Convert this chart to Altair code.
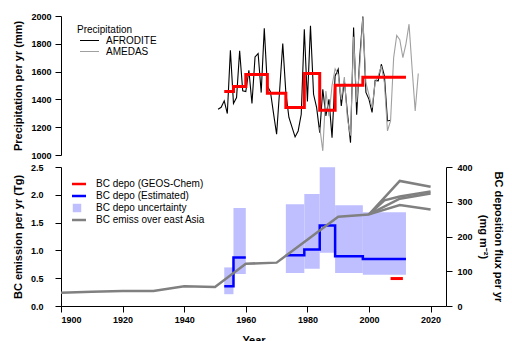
import altair as alt
import pandas as pd

# ---------------- data ----------------
afro_years = [1951, 1952, 1953, 1954, 1955, 1956, 1957, 1958, 1959, 1960,
              1961, 1962, 1963, 1964, 1965, 1966, 1967, 1968, 1969, 1970,
              1971, 1972, 1973, 1974, 1975, 1976, 1977, 1978, 1979, 1980,
              1981, 1982, 1983, 1984, 1985, 1986, 1987, 1988, 1989, 1990,
              1991, 1992, 1993, 1994, 1995, 1996, 1997, 1998, 1999, 2000,
              2001, 2002, 2003, 2004, 2005, 2006, 2007]
afro_mm = [1329, 1343, 1390, 1298, 1754, 1370, 1413, 1750, 1462, 1456,
           1610, 1370, 1706, 1730, 1449, 1911, 1497, 1456, 1300, 1149,
           1470, 1802, 1449, 1270, 1200, 1130, 1173, 1293, 1905, 1385,
           1929, 1437, 1341, 1161, 1473, 1281, 1400, 1125, 1569, 1617,
           1353, 1536, 1300, 1089, 1917, 1290, 1700, 1996, 1450, 1400,
           1306, 1536, 1533, 1653, 1569, 1245, 1250]

amedas_years = [1984, 1985, 1986, 1987, 1988, 1989, 1990, 1991, 1992, 1993,
                1994, 1995, 1996, 1997, 1998, 1999, 2000, 2001, 2002, 2003,
                2004, 2005, 2006, 2007, 2008, 2009, 2010, 2011, 2012, 2013,
                2014, 2015, 2016]
amedas_mm = [1200, 1030, 1460, 1280, 1500, 1620, 1580, 1400, 1560, 1260,
             1140, 1850, 1380, 1640, 1990, 1520, 1430, 1340, 1520, 1570,
             1640, 1520, 1173, 1245, 1700, 1860, 1830, 1700, 1800, 1941,
             1620, 1317, 1586]

prc_start = [1953, 1956, 1960, 1967, 1973, 1979, 1984, 1989, 1998]
prc_end = [1956, 1960, 1967, 1973, 1979, 1984, 1989, 1998, 2012]
prc_val = [1456, 1492, 1579, 1444, 1341, 1586, 1322, 1502, 1559]

dep_start = [1953, 1956, 1973, 1979, 1984, 1989, 1998]
dep_end = [1956, 1960, 1979, 1984, 1989, 1998, 2012]
dep_val = [57, 139.5, 146, 162.5, 232, 143, 135.5]
unc_lo = [34, 92, 95, 107, 153, 95, 90]
unc_hi = [111, 282, 293, 322, 399, 290, 270]

geos_start = [2007]
geos_end = [2011]
geos_val = [79]

emis_hist_years = [1900, 1910, 1920, 1930, 1940, 1950, 1960, 1970, 1990, 2000]
emis_hist_tg = [0.24, 0.255, 0.27, 0.27, 0.355, 0.34, 0.76, 0.78, 1.605, 1.647]
scen_names = ["s1", "s2", "s3", "s4"]
scen_years = [[2000, 2010, 2020], [2000, 2005, 2010, 2020],
              [2000, 2010, 2020], [2000, 2010, 2020]]
scen_tg = [[1.647, 2.25, 2.145], [1.647, 1.90, 1.97, 2.06],
           [1.647, 1.93, 2.025], [1.647, 1.815, 1.737]]

LAB_GEOS = "BC depo (GEOS-Chem)"
LAB_EST = "BC depo (Estimated)"
LAB_UNC = "BC depo uncertainty"
LAB_EMI = "BC emiss over east Asia"


def step_points(starts, ends, vals):
    rows, grp = [], 0
    for i, (s, e, v) in enumerate(zip(starts, ends, vals)):
        rows.append({"year": s, "val": v, "grp": grp})
        if i == len(starts) - 1 or starts[i + 1] != e:
            rows.append({"year": e, "val": v, "grp": grp})
            grp += 1
    return pd.DataFrame(rows)


prc_df = pd.concat([
    pd.DataFrame({"year": afro_years, "mm": afro_mm, "series": "AFRODITE"}),
    pd.DataFrame({"year": amedas_years, "mm": amedas_mm, "series": "AMEDAS"}),
])
prc_step = step_points(prc_start, prc_end, prc_val)

dep_step = step_points(dep_start, dep_end, dep_val)
dep_step["series"] = LAB_EST
unc_df = pd.DataFrame({"start": dep_start, "end": dep_end, "lo": unc_lo,
                       "hi": unc_hi, "series": LAB_UNC})
geos_df = step_points(geos_start, geos_end, geos_val)
geos_df["series"] = LAB_GEOS

emis_rows = [{"year": y, "tg": v, "line": "hist", "series": LAB_EMI}
             for y, v in zip(emis_hist_years, emis_hist_tg)]
for n, ys, vs in zip(scen_names, scen_years, scen_tg):
    emis_rows += [{"year": y, "tg": v, "line": n, "series": LAB_EMI}
                  for y, v in zip(ys, vs)]
emis_df = pd.DataFrame(emis_rows)

# ---------------- chart ----------------
FONT = "Liberation Sans"
W, H = 385, 139
xscale = alt.Scale(domain=[1900, 2025], nice=False, zero=False)
xaxis = alt.Axis(values=list(range(1900, 2021, 20)), format="d", title="Year",
                 labelPadding=3, titlePadding=10)

# top panel
pscale = alt.Scale(domain=[1000, 2000], nice=False, zero=False)
paxis = alt.Axis(values=[1000, 1200, 1400, 1600, 1800, 2000], format="d",
                 title="Precipitation per yr (mm)", labelPadding=4, titlePadding=7)
top_legend = alt.Legend(title="Precipitation", orient="none", legendX=16, legendY=9,
                        symbolType="stroke", symbolSize=361, symbolStrokeWidth=1.2,
                        labelFontSize=10, titleFontSize=10, titleFontWeight="normal",
                        clipHeight=11, rowPadding=0, symbolOffset=2, labelOffset=6,
                        titlePadding=0, padding=0)

prc_lines = alt.Chart(prc_df).mark_line(strokeWidth=1.1).encode(
    x=alt.X("year:Q", scale=xscale, axis=None),
    y=alt.Y("mm:Q", scale=pscale, axis=paxis),
    color=alt.Color("series:N", scale=alt.Scale(domain=["AFRODITE", "AMEDAS"],
                                                range=["#000000", "#a0a0a0"]),
                    legend=top_legend),
    order=alt.Order("year:Q"),
)
prc_red = alt.Chart(prc_step).mark_line(interpolate="step-after", color="#ff0000",
                                        strokeWidth=3).encode(
    x=alt.X("year:Q", scale=xscale, axis=None),
    y=alt.Y("val:Q", scale=pscale, axis=paxis),
    detail="grp:N",
)
top = alt.layer(prc_lines, prc_red).properties(width=W, height=H)

# bottom panel
dscale = alt.Scale(domain=[0, 400], nice=False, zero=True)
daxis = alt.Axis(values=[0, 100, 200, 300, 400], format="d", orient="right",
                 title=["BC deposition flux per yr", "(mg m\u207b\u00b2)"],
                 titleLineHeight=15, labelPadding=5, titlePadding=5)
escale = alt.Scale(domain=[0, 2.5], nice=False, zero=True)
eaxis = alt.Axis(values=[0, 0.5, 1.0, 1.5, 2.0, 2.5], format=".1f", orient="left",
                 title="BC emission per yr (Tg)", labelPadding=12, titlePadding=7)

cdom = [LAB_GEOS, LAB_EST, LAB_UNC, LAB_EMI]
crng = ["#ff0000", "#0000ff", "#bfbfff", "#808080"]
U = f"datum.value === '{LAB_UNC}'"
bot_legend = alt.Legend(
    title=None, orient="none", legendX=11, legendY=11,
    symbolSize={"expr": f"{U} ? 72 : 324"},
    symbolType={"expr": f"{U} ? 'square' : 'stroke'"},
    symbolFillColor={"expr": f"{U} ? '#bfbfff' : 'transparent'"},
    symbolStrokeWidth={"expr": f"{U} ? 0 : 2.5"},
    clipHeight=12, rowPadding=0, labelOffset=14,
    labelFontSize=10, padding=0,
)
cenc = alt.Color("series:N", scale=alt.Scale(domain=cdom, range=crng), legend=bot_legend)

unc = alt.Chart(unc_df).mark_rect(opacity=1).encode(
    x=alt.X("start:Q", scale=xscale, axis=xaxis), x2="end:Q",
    y=alt.Y("lo:Q", scale=dscale, axis=daxis), y2="hi:Q",
    color=cenc,
)
blue = alt.Chart(dep_step).mark_line(interpolate="step-after", strokeWidth=2.5).encode(
    x=alt.X("year:Q", scale=xscale, axis=xaxis),
    y=alt.Y("val:Q", scale=dscale, axis=daxis),
    color=cenc, detail="grp:N",
)
geos = alt.Chart(geos_df).mark_line(strokeWidth=3).encode(
    x=alt.X("year:Q", scale=xscale, axis=xaxis),
    y=alt.Y("val:Q", scale=dscale, axis=daxis),
    color=cenc, detail="grp:N",
)
dep_layer = alt.layer(unc, blue, geos)

emis = alt.Chart(emis_df).mark_line(strokeWidth=2.5).encode(
    x=alt.X("year:Q", scale=xscale, axis=xaxis),
    y=alt.Y("tg:Q", scale=escale, axis=eaxis),
    color=cenc, detail="line:N", order=alt.Order("year:Q"),
)
bottom = alt.layer(dep_layer, emis).resolve_scale(y="independent").properties(
    width=W, height=H)

chart = alt.vconcat(top, bottom, spacing=3).resolve_scale(
    color="independent").resolve_legend(color="independent").properties(
    padding={"left": 4, "top": 4, "right": 0, "bottom": 0}
).configure_axis(
    grid=False, labelFont=FONT, titleFont=FONT, labelFontSize=9,
    labelFontWeight="bold", titleFontSize=11, titleFontWeight="bold",
    tickSize=6, domainColor="black", tickColor="black", labelColor="black",
    titleColor="black", domainWidth=1, tickWidth=1,
).configure_legend(
    labelFont=FONT, titleFont=FONT, labelColor="black", titleColor="black",
).configure_view(strokeWidth=0)

chart.save("out.html", embed_options={"renderer": "svg", "actions": False})
